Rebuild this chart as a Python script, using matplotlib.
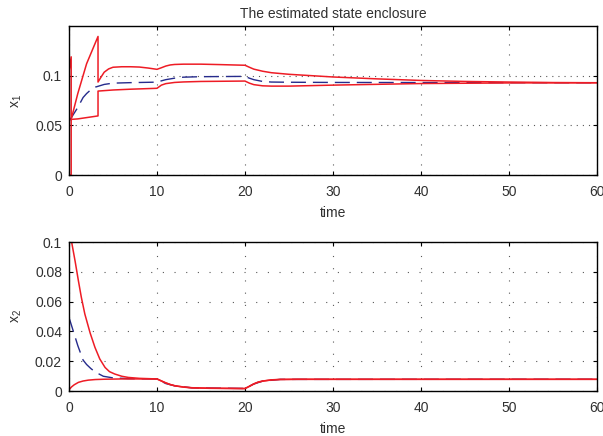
import matplotlib
matplotlib.use('Agg')
import matplotlib.pyplot as plt

plt.rcParams['font.family'] = ['Liberation Sans', 'DejaVu Sans']
plt.rcParams['font.size'] = 10

# x1: upper / lower bound of the enclosure and the estimate
t_x1_up = [0, 0.25, 0.25, 1.0, 2.0, 3.3, 3.3, 3.6, 4, 4.5, 5, 6, 7, 8, 9, 10,
           10.5, 11, 11.5, 12, 13, 15, 17, 20, 20.5, 21, 22, 23, 25, 30, 35, 40, 45, 50, 55, 60]
x1_up = [0.104, 0.119, 0.056, 0.082, 0.112, 0.1395, 0.0936, 0.098, 0.1035, 0.1068, 0.1085,
         0.109, 0.109, 0.1087, 0.1077, 0.1064,
         0.108, 0.1097, 0.1108, 0.1113, 0.1116, 0.1116, 0.1112, 0.1105, 0.1085, 0.1066,
         0.1045, 0.103, 0.1014, 0.0987, 0.0968, 0.0952, 0.0942, 0.0936, 0.0931, 0.0929]

t_x1_lo = [0, 0.25, 0.25, 1, 2, 3.3, 3.3, 5, 7, 10, 10.5, 11, 12, 13, 15, 20,
           20.5, 21, 22, 23, 25, 30, 35, 40, 50, 60]
x1_lo = [0, 0, 0.056, 0.0565, 0.0578, 0.0595, 0.0845, 0.0856, 0.0864, 0.0873, 0.0905,
         0.092, 0.0932, 0.0937, 0.0942, 0.0946, 0.0925, 0.091, 0.0898, 0.0895, 0.0895,
         0.0905, 0.0913, 0.0921, 0.0927, 0.0929]

t_x1_est = [0, 0.5, 1, 1.6, 2, 2.5, 3, 4, 5, 7, 10, 10.5, 11, 12, 13, 15, 20,
            20.5, 21, 22, 23, 25, 30, 40, 50, 60]
x1_est = [0.054, 0.061, 0.068, 0.078, 0.082, 0.086, 0.0885, 0.0912, 0.0925, 0.093,
          0.0935, 0.0948, 0.096, 0.0975, 0.0985, 0.099, 0.0993, 0.0975, 0.096, 0.0942,
          0.0936, 0.0934, 0.0932, 0.0931, 0.093, 0.0929]

# x2
t_x2_up = [0, 0.3, 0.7, 1.07, 1.4, 1.8, 2.4, 2.95, 3.5, 4.1, 4.6, 5.2, 6, 6.75, 8, 10,
           10.5, 11, 11.5, 12, 13, 14, 16, 20, 20.5, 21, 21.5, 22, 23, 24, 26, 60]
x2_up = [0.1, 0.1, 0.087, 0.074, 0.063, 0.0517, 0.039, 0.0293, 0.0215, 0.0158, 0.013,
         0.0114, 0.0099, 0.0091, 0.0085, 0.0081,
         0.0068, 0.0055, 0.0044, 0.0036, 0.0027, 0.0022, 0.0019, 0.0017, 0.0032, 0.0048,
         0.006, 0.0067, 0.0075, 0.0078, 0.0079, 0.0079]

t_x2_lo = [0, 0.3, 0.6, 1.07, 1.6, 2.2, 3, 4, 6, 10,
           10.5, 11, 11.5, 12, 13, 14, 16, 20, 20.5, 21, 21.5, 22, 23, 24, 26, 60]
x2_lo = [0.0008, 0.0028, 0.0042, 0.0058, 0.0067, 0.0073, 0.0077, 0.0079, 0.0081, 0.0081,
         0.0067, 0.0054, 0.0043, 0.0035, 0.0026, 0.0021, 0.0018, 0.0016, 0.0031, 0.0047,
         0.0059, 0.0066, 0.0074, 0.0077, 0.0078, 0.0078]

t_x2_est = [0, 0.5, 1, 1.6, 2, 2.5, 3, 3.9, 5, 6.7, 10, 11, 12, 14, 20, 21, 22, 24, 60]
x2_est = [0.0494, 0.040, 0.0305, 0.0208, 0.0178, 0.015, 0.0127, 0.0099, 0.0088, 0.0083,
          0.0081, 0.005, 0.0035, 0.0021, 0.0017, 0.0047, 0.0066, 0.0078, 0.0079]

x_ticks = [0, 10, 20, 30, 40, 50, 60]
y1_ticks = [0, 0.05, 0.1]
y1_labels = ['0', '0.05', '0.1']
y2_ticks = [0, 0.02, 0.04, 0.06, 0.08, 0.1]
y2_labels = ['0', '0.02', '0.04', '0.06', '0.08', '0.1']

red = '#ee1c25'
blue = '#262b8c'
txt = '#303030'

fig = plt.figure(figsize=(6.03, 4.36), dpi=100)
ax1 = fig.add_axes([0.1144, 0.5986, 0.8756, 0.3417])
ax2 = fig.add_axes([0.1144, 0.1032, 0.8756, 0.3417])


def style(ax, yticks, ylabels, ylim, ylab, hdots, vdots):
    ax.set_xlim(0, 60)
    ax.set_ylim(*ylim)
    ax.set_xticks(x_ticks)
    ax.set_xticklabels([str(v) for v in x_ticks])
    ax.set_yticks(yticks)
    ax.set_yticklabels(ylabels)
    ax.tick_params(direction='in', length=3, width=0.8, top=True, right=True,
                   colors='black', labelcolor=txt, pad=5)
    ax.tick_params(axis='x', pad=7)
    ax.grid(True, axis='x', linestyle=(0, (1, vdots)), color='0.35', linewidth=0.8)
    ax.grid(True, axis='y', linestyle=(0, (1, hdots)), color='0.35', linewidth=0.8)
    ax.set_axisbelow(True)
    for s in ax.spines.values():
        s.set_linewidth(1.0)
    ax.set_xlabel('time', color=txt, labelpad=5)
    ax.set_ylabel(ylab, color=txt, labelpad=8)


ax1.plot(t_x1_est, x1_est, color=blue, lw=1.0, dashes=(10.8, 5))
ax1.plot(t_x1_up, x1_up, color=red, lw=1.1)
ax1.plot(t_x1_lo, x1_lo, color=red, lw=1.1)
style(ax1, y1_ticks, y1_labels, (0, 0.15), r'x$_{\mathregular{1}}$', 4.5, 8)
ax1.set_title('The estimated state enclosure', color=txt, fontsize=10, pad=6)

ax2.plot(t_x2_est, x2_est, color=blue, lw=1.0, dashes=(10.8, 5))
ax2.plot(t_x2_up, x2_up, color=red, lw=1.1)
ax2.plot(t_x2_lo, x2_lo, color=red, lw=1.1)
style(ax2, y2_ticks, y2_labels, (0, 0.1), r'x$_{\mathregular{2}}$', 9.5, 10)

fig.savefig('out.png', dpi=100)
